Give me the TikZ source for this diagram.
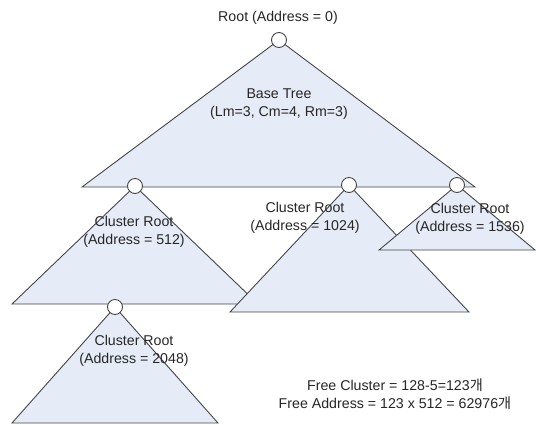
\documentclass[tikz,border=0pt]{standalone}
\usepackage{fontspec}
\setmainfont{Liberation Sans}
\newfontfamily\krfont{Noto Sans CJK KR}
\definecolor{treefill}{RGB}{229,235,247}
\definecolor{treeline}{RGB}{70,70,70}
\tikzset{
  subtree/.style = {draw=treeline, fill=treefill, line width=0.9pt, line join=miter},
  rootdot/.style = {circle, draw=treeline, fill=white, line width=0.9pt,
                    minimum size=15pt, inner sep=0pt},
  treetext/.style = {align=center, inner sep=0pt, text=black!85,
                     font=\fontsize{14.2}{18}\selectfont}
}

\begin{document}
\begin{tikzpicture}[x=1pt,y=-1pt]
  \useasboundingbox (0,0) rectangle (536,424);
  % root points
  \coordinate (r0)    at (279,40);
  \coordinate (c512)  at (135,186);
  \coordinate (c1024) at (349,185);
  \coordinate (c1536) at (457,185);
  \coordinate (c2048) at (115,307);
  % trees
  \draw[subtree] (r0)    -- (82,187)  -- (475,187) -- cycle;
  \draw[subtree] (c512)  -- (12,304)  -- (258,304) -- cycle;
  \draw[subtree] (c1024) -- (230,312) -- (469,312) -- cycle;
  \draw[subtree] (c1536) -- (379,250) -- (535,250) -- cycle;
  \draw[subtree] (c2048) -- (12,423)  -- (218,423) -- cycle;
  % root circles
  \foreach \c in {r0,c512,c1024,c1536,c2048}
    \node[rootdot] (dot-\c) at (\c) {};
  % labels
  \node[treetext] (rootlabel) at (278,18)  {Root (Address = 0)};
  \node[treetext] (baselabel) at (279,104) {Base Tree\\(Lm=3, Cm=4, Rm=3)};
  \node[treetext] (label512)  at (134,232) {Cluster Root\\(Address = 512)};
  \node[treetext] (label1024) at (305,218) {Cluster Root\\(Address = 1024)};
  \node[treetext] (label1536) at (470,219) {Cluster Root\\(Address = 1536)};
  \node[treetext] (label2048) at (134,351) {Cluster Root\\(Address = 2048)};
  \node[treetext] (freelabel) at (395,394)
    {Free Cluster = 128-5=123{\krfont 개}\\Free Address = 123 x 512 = 62976{\krfont 개}};
\end{tikzpicture}
\end{document}
